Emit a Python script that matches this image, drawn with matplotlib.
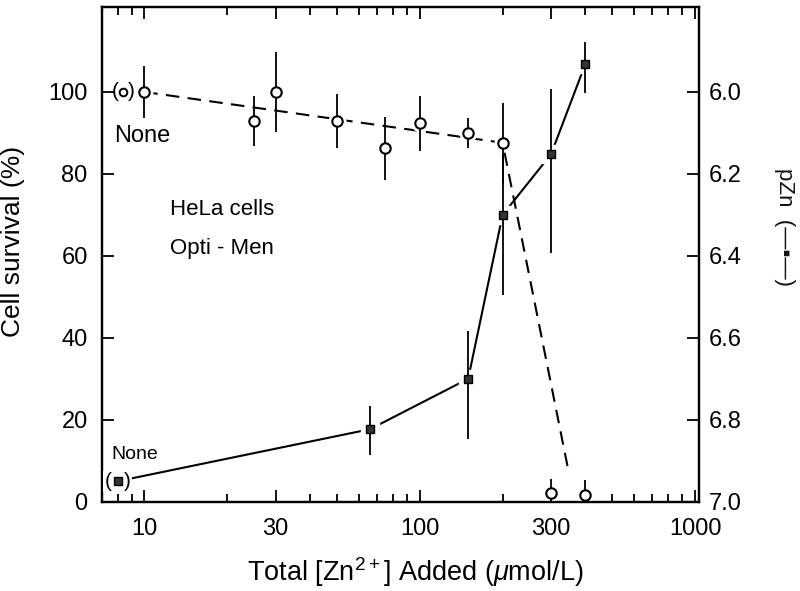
import matplotlib
matplotlib.use('Agg')
import matplotlib.pyplot as plt
from matplotlib.ticker import FixedLocator, FixedFormatter, NullFormatter

plt.rcParams['font.family'] = ['Liberation Sans', 'DejaVu Sans']
plt.rcParams['mathtext.fontset'] = 'custom'
plt.rcParams['mathtext.rm'] = 'Liberation Sans'
plt.rcParams['mathtext.it'] = 'Liberation Sans:italic'

# ---------------- data ----------------
# cell survival (open circles)
surv_conc = [10, 25, 30, 50, 75, 100, 150, 200, 300, 400]
surv_pct = [100, 92.9, 100, 92.9, 86.2, 92.3, 89.9, 87.6, 2.2, 1.6]
surv_err = [6.3, 6.2, 9.8, 6.6, 7.7, 6.7, 3.7, 9.8, 3.3, 3.8]
surv_none_conc = [8.4]
surv_none_pct = [100]

# dashed trend line for survival
trend_conc = [10, 200, 347]
trend_pct = [100, 87.6, 7.5]

# pZn (filled squares)
pzn_conc = [66, 150, 200, 300, 400]
pzn_val = [6.823, 6.70, 6.30, 6.152, 5.931]
pzn_err_low = [0.057, 0.116, 0.146, 0.158, 0.053]   # toward smaller pZn
pzn_err_high = [0.063, 0.148, 0.195, 0.242, 0.072]  # toward larger pZn
pzn_none_conc = [8.0]
pzn_none_val = [6.95]

# axes ticks
x_major = [10, 30, 100, 300, 1000]
x_major_labels = ['10', '30', '100', '300', '1000']
x_minor = [8, 9, 20, 40, 50, 60, 70, 80, 90, 200, 400, 500, 600, 700, 800, 900]
y_left_ticks = [0, 20, 40, 60, 80, 100]
y_right_ticks = [6.0, 6.2, 6.4, 6.6, 6.8, 7.0]
y_right_labels = ['6.0', '6.2', '6.4', '6.6', '6.8', '7.0']

# ---------------- figure ----------------
fig = plt.figure(figsize=(8, 5.91), dpi=100)
ax = fig.add_axes([0.127, 0.151, 0.747, 0.837])
ax.set_xscale('log')
ax.set_xlim(7.0, 1035)
ax.set_ylim(0, 120.7)

# survival series
ax.plot(trend_conc, trend_pct, color='k', lw=1.5, dashes=(6.5, 4), zorder=2)
ax.plot(surv_conc, surv_pct, ls='none', marker='o', ms=12, mfc='white',
        mec='white', zorder=3)
ax.errorbar(surv_conc, surv_pct, yerr=surv_err, fmt='none', ecolor='k',
            elinewidth=1.3, capsize=0, zorder=4)
ax.plot(surv_conc, surv_pct, ls='none', marker='o', ms=7.5, mfc='white',
        mec='k', mew=1.5, zorder=5)
ax.plot(surv_none_conc, surv_none_pct, ls='none', marker='o', ms=5.5,
        mfc='white', mec='k', mew=1.4, zorder=5)
for t, dx in (('(', -6), (')', 6)):
    ax.annotate(t, (surv_none_conc[0], surv_none_pct[0]), xytext=(dx, 0),
                textcoords='offset points', ha='center', va='center',
                fontsize=15, zorder=6)

ax.text(9.8, 89.3, 'None', fontsize=17, ha='center', va='center')
ax.text(9.2, 11.6, 'None', fontsize=14, ha='center', va='center')
ax.text(12.4, 71.3, 'HeLa cells', fontsize=16, ha='left', va='center')
ax.text(12.4, 61.8, 'Opti - Men', fontsize=16, ha='left', va='center')

# x axis
ax.xaxis.set_major_locator(FixedLocator(x_major))
ax.xaxis.set_major_formatter(FixedFormatter(x_major_labels))
ax.xaxis.set_minor_locator(FixedLocator(x_minor))
ax.xaxis.set_minor_formatter(NullFormatter())
ax.tick_params(axis='x', which='major', direction='in', length=8.5, width=1.3,
               top=True, labelsize=17, pad=12)
ax.tick_params(axis='x', which='minor', direction='in', length=5.5, width=1.3,
               top=True)
ax.set_yticks(y_left_ticks)
ax.tick_params(axis='y', which='major', direction='in', length=8.5, width=1.3,
               right=False, labelsize=17, pad=10)
ax.tick_params(axis='y', which='minor', left=False, right=False)
for s in ax.spines.values():
    s.set_linewidth(1.6)

ax.set_xlabel('Total [Zn$^{2+}$] Added ($\\mu$mol/L)', fontsize=19.5)
ax.xaxis.set_label_coords(0.5245, -0.142)
ax.xaxis.label.set_va('center')
ax.set_ylabel('Cell survival (%)', fontsize=19)
ax.yaxis.set_label_coords(-0.148, 0.527)
ax.yaxis.label.set_va('center')

# pZn series on right axis
ax2 = ax.twinx()
ax2.set_ylim(7.0, 5.793)
line_conc = pzn_none_conc + pzn_conc
line_val = pzn_none_val + pzn_val
ax2.plot(line_conc, line_val, color='k', lw=1.5, zorder=2)
ax2.plot(line_conc, line_val, ls='none', marker='s', ms=12.5, mfc='white',
         mec='white', zorder=3)
ax2.errorbar(pzn_conc, pzn_val, yerr=[pzn_err_low, pzn_err_high], fmt='none',
             ecolor='k', elinewidth=1.3, capsize=0, zorder=4)
ax2.plot(pzn_conc, pzn_val, ls='none', marker='s', ms=6.2, mfc='#333333',
         mec='k', mew=1.0, zorder=5)
ax2.plot(pzn_none_conc, pzn_none_val, ls='none', marker='s', ms=5.8,
         mfc='#333333', mec='k', mew=1.0, zorder=6)
for t, dx in (('(', -7), (')', 7)):
    ax2.annotate(t, (pzn_none_conc[0], pzn_none_val[0]), xytext=(dx, 0),
                 textcoords='offset points', ha='center', va='center',
                 fontsize=15, zorder=5,
                 bbox=dict(boxstyle='square,pad=0.05', fc='white', ec='none'))

ax2.yaxis.set_major_locator(FixedLocator(y_right_ticks))
ax2.yaxis.set_major_formatter(FixedFormatter(y_right_labels))
ax2.tick_params(axis='y', which='major', direction='in', length=8.5, width=1.3,
                labelsize=17, pad=7)
ax2.tick_params(axis='y', which='minor', left=False, right=False)
ax2.set_ylabel('pZn  (\u2014\u25aa\u2014)', fontsize=16, rotation=270,
               color='#111111')
ax2.yaxis.set_label_coords(1.142, 0.556)
ax2.yaxis.label.set_va('center')
ax2.yaxis.label.set_ha('center')
for s in ax2.spines.values():
    s.set_linewidth(1.6)

fig.savefig('out.png', dpi=100)
